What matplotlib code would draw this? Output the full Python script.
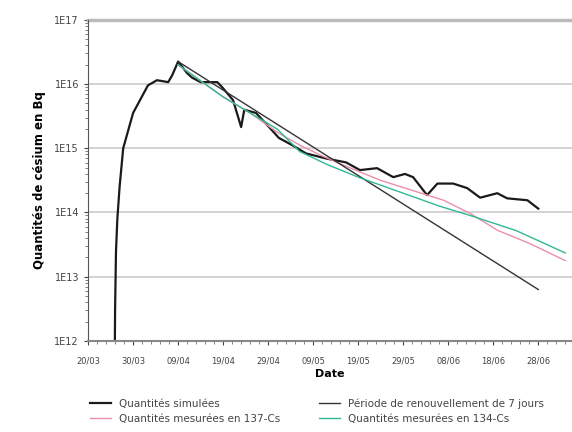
import numpy as np
import matplotlib
matplotlib.use("Agg")
import matplotlib.pyplot as plt
from matplotlib.ticker import LogLocator, FuncFormatter, NullFormatter

# days since 20/03, log10 of quantity (Bq)
sim_days = [5.9, 6.0, 6.2, 6.5, 7.0, 7.8, 10.0, 13.3, 15.3, 17.8, 18.7, 20.0, 22.0, 23.1,
            25.0, 27.0, 28.7, 29.8, 32.2, 34.0, 34.7, 37.3, 40.2, 42.4, 45.3, 48.4,
            52.9, 57.3, 60.4, 64.2, 67.8, 70.4, 72.2, 75.3, 77.6, 81.1, 84.2,
            87.1, 90.9, 93.1, 97.6, 100.0]
sim_log = [11.5, 12.5, 13.4, 13.9, 14.4, 15.0, 15.55, 15.98, 16.06, 16.03, 16.14, 16.35, 16.17, 16.1,
           16.03, 16.03, 16.03, 15.95, 15.75, 15.33, 15.6, 15.55, 15.33, 15.16, 15.05, 14.92,
           14.84, 14.78, 14.66, 14.69, 14.55, 14.6, 14.55, 14.27, 14.45, 14.45, 14.38,
           14.23, 14.3, 14.22, 14.19, 14.06]

renew_days = [20.0, 100.0]
renew_log = [16.35, 12.8]

cs137_days = [20, 25, 30, 36, 42, 47, 52, 58, 65, 74, 79, 85, 91, 98, 106]
cs137_log = [16.3, 16.05, 15.8, 15.55, 15.25, 15.05, 14.88, 14.7, 14.5, 14.3, 14.19, 13.98, 13.72, 13.52, 13.25]

cs134_days = [20, 25, 30, 36, 42, 47, 53, 60, 70, 78, 85, 95, 106]
cs134_log = [16.3, 16.05, 15.8, 15.55, 15.3, 14.95, 14.75, 14.55, 14.3, 14.1, 13.95, 13.72, 13.37]

tick_days = [0, 10, 20, 30, 40, 50, 60, 70, 80, 90, 100]
tick_labels = ["20/03", "30/03", "09/04", "19/04", "29/04", "09/05", "19/05", "29/05", "08/06", "18/06", "28/06"]

fig = plt.figure(figsize=(5.72, 4.32), dpi=100)
ax = fig.add_axes([0.154, 0.211, 0.846, 0.743])

ax.plot(sim_days, 10 ** np.array(sim_log), color="#1a1a1a", lw=1.6, label="Quantités simulées")
ax.plot(cs137_days, 10 ** np.array(cs137_log), color="#e890a8", lw=1.0, label="Quantités mesurées en 137-Cs")
ax.plot(renew_days, 10 ** np.array(renew_log), color="#333333", lw=1.0,
        label="Période de renouvellement de 7 jours")
ax.plot(cs134_days, 10 ** np.array(cs134_log), color="#30b896", lw=1.0, label="Quantités mesurées en 134-Cs")

ax.set_yscale("log")
ax.set_ylim(1e12, 1e17)
ax.set_xlim(0, 107.5)
ax.yaxis.set_major_locator(LogLocator(base=10, numticks=10))
ax.yaxis.set_major_formatter(FuncFormatter(lambda v, p: "1E%d" % round(np.log10(v))))
ax.yaxis.set_minor_locator(LogLocator(base=10, subs=np.arange(2, 10) * 1.0, numticks=20))
ax.yaxis.set_minor_formatter(NullFormatter())
ax.set_xticks(tick_days)
ax.set_xticklabels(tick_labels)
ax.set_xticks(np.arange(0, 108, 2), minor=True)

ax.grid(axis="y", which="major", color="#cccccc", lw=1.2)
ax.tick_params(labelsize=6, colors="#444444", length=3)
ax.tick_params(axis="y", labelsize=7)
ax.tick_params(axis="x", pad=8)
ax.tick_params(which="minor", length=2, colors="#666666")
for s in ["top", "right"]:
    ax.spines[s].set_visible(False)
ax.spines["left"].set_color("#555555")
ax.spines["bottom"].set_color("#888888")
ax.spines["bottom"].set_linewidth(1.5)
ax.axhline(1e17, color="#bbbbbb", lw=2.5, clip_on=False)

ax.set_ylabel("Quantités de césium en Bq", fontsize=8.5, fontweight="bold", labelpad=6)
ax.set_xlabel("Date", fontsize=8, fontweight="bold", labelpad=3)

handles, labels = ax.get_legend_handles_labels()
fig.legend(handles, labels, loc="upper left", ncol=2, bbox_to_anchor=(0.157, 0.078),
           fontsize=7.5, frameon=False, columnspacing=3.7, handlelength=2.0,
           borderpad=0, borderaxespad=0, labelspacing=0.5, labelcolor="#444444")

fig.savefig("out.png", dpi=100)
